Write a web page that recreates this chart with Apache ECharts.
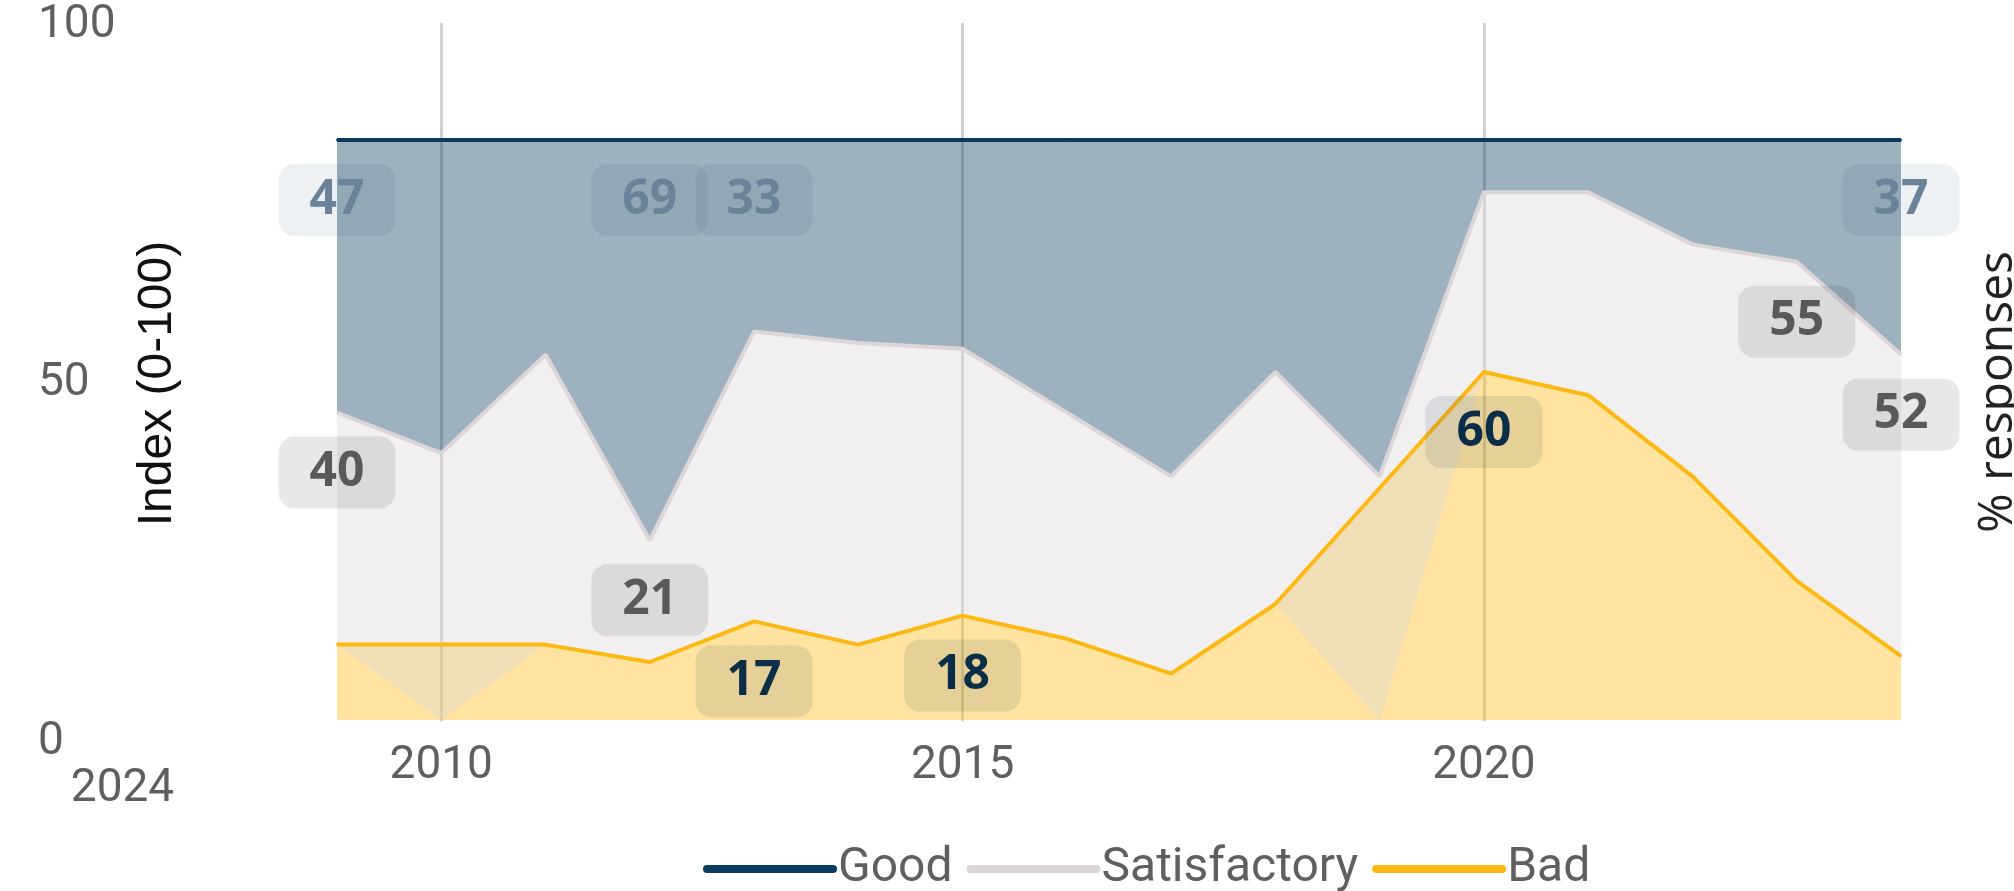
<!DOCTYPE html>
<html>
<head>
<meta charset="utf-8">
<title>Good / Satisfactory / Bad</title>
<script src="https://cdn.jsdelivr.net/npm/echarts@6/dist/echarts.min.js"></script>
<style>
  html, body { margin: 0; padding: 0; background: #ffffff; }
  #chart { width: 2014px; height: 891px; }
</style>
</head>
<body>
<div id="chart"></div>
<script>
// ---------- data ----------
const years = ['2009', '2010', '2011', '2012', '2013', '2014', '2015', '2016',
               '2017', '2018', '2019', '2020', '2021', '2022', '2023', '2024'];

// % of responses, stacked Bad -> Satisfactory -> Good (null = no value that year)
const goodValues         = [47, 54, 37, 69, 33, 35, 36, 47, 58, 40, 58,  9,  9, 18, 21, 37];
const satisfactoryValues = [40, 46, 50, 21, 50, 52, 46, 39, 34, 40, 42, 31, 35, 40, 55, 52];
const badValues          = [13, null, 13, 10, 17, 13, 18, 14, 8, 20, null, 60, 56, 42, 24, 11];

// which points carry a value label
const goodLabelIdx = [0, 3, 4, 15];
const satisfactoryLabelIdx = [0, 3, 14, 15];
const badLabelIdx = [4, 6, 11];

// the small index panel on the left
const indexYears = ['2024'];

const colors = {
    good: '#0b3c5d',
    satisfactory: '#dcd6d8',
    bad: '#fdb913'
};

// turn a plain value list into series data, switching labels on for some points
function withLabels(values, idxList) {
    return values.map((v, i) => idxList.indexOf(i) >= 0 ? { value: v, label: { show: true } } : v);
}

// rounded label box under the point
function boxLabel(textColor, boxColor) {
    return {
        show: false,
        position: 'bottom',
        distance: 23,
        fontFamily: 'Open Sans',
        fontWeight: 'bold',
        fontSize: 48,
        lineHeight: 48,
        color: textColor,
        backgroundColor: boxColor,
        borderRadius: 16,
        padding: [12, 31]
    };
}

function lineSeries(name, values, color, labelIdx, label) {
    return {
        name: name,
        type: 'line',
        stack: 'share',
        xAxisIndex: 0,
        yAxisIndex: 0,
        data: withLabels(values, labelIdx),
        connectNulls: true,
        symbol: 'circle',
        symbolSize: 2,
        showSymbol: true,
        lineStyle: { color: color, width: 4 },
        itemStyle: { color: color },
        areaStyle: { color: color, opacity: 0.4 },
        label: label,
        emphasis: { disabled: true }
    };
}

const showEveryFifth = (idx, value) => Number(value) % 5 === 0;

function initChart() {
    const chart = echarts.init(document.getElementById('chart'));

    const option = {
        backgroundColor: '#ffffff',
        animation: false,
        legend: {
            data: ['Good', 'Satisfactory', 'Bad'],
            left: 698,
            top: 840,
            itemWidth: 126,
            itemHeight: 14,
            itemGap: 14,
            textStyle: { fontFamily: 'Roboto', fontSize: 48, color: '#5f5f5f' },
            lineStyle: { width: 8, cap: 'round' },
            itemStyle: { opacity: 0 }
        },
        grid: [
            { left: 337, right: 113, top: 24, bottom: 171, outerBoundsMode: 'none' },
            { left: 30, top: 25, width: 185, bottom: 149, outerBoundsMode: 'none' }
        ],
        xAxis: [
            {
                type: 'category',
                gridIndex: 0,
                data: years,
                boundaryGap: false,
                axisLine: { show: false },
                axisTick: { show: false },
                axisLabel: {
                    interval: showEveryFifth,
                    margin: 23,
                    fontFamily: 'Roboto',
                    fontSize: 46,
                    color: '#5f5f5f'
                },
                splitLine: {
                    show: true,
                    interval: showEveryFifth,
                    lineStyle: { color: '#d0d0d0', width: 3, cap: 'round' }
                }
            },
            {
                type: 'category',
                gridIndex: 1,
                data: indexYears,
                axisLine: { show: false },
                axisTick: { show: false },
                splitLine: { show: false },
                axisLabel: { margin: 24, fontFamily: 'Roboto', fontSize: 46, color: '#5f5f5f' }
            }
        ],
        yAxis: [
            {
                type: 'value',
                gridIndex: 0,
                position: 'right',
                min: 0,
                max: 120,
                axisLabel: { show: false },
                axisLine: { show: false },
                axisTick: { show: false },
                splitLine: { show: false },
                name: '% responses',
                nameLocation: 'middle',
                nameGap: 73,
                nameMoveOverlap: false,
                nameTextStyle: {
                    fontFamily: 'Open Sans',
                    fontSize: 48,
                    color: '#222222',
                    padding: [0, 40, 0, 0]
                }
            },
            {
                type: 'value',
                gridIndex: 1,
                position: 'left',
                min: 0,
                max: 100,
                interval: 50,
                axisLabel: {
                    inside: true,
                    margin: 8,
                    fontFamily: 'Roboto',
                    fontSize: 46,
                    color: '#5f5f5f'
                },
                axisLine: { show: false },
                axisTick: { show: false },
                splitLine: { show: false },
                name: 'Index (0-100)',
                nameLocation: 'middle',
                nameGap: -152,
                nameMoveOverlap: false,
                nameTextStyle: { fontFamily: 'Liberation Sans', fontSize: 48, color: '#111111' }
            }
        ],
        series: [
            lineSeries('Bad', badValues, colors.bad, badLabelIdx,
                boxLabel('#0b2d48', 'rgba(12,45,74,0.1)')),
            lineSeries('Satisfactory', satisfactoryValues, colors.satisfactory, satisfactoryLabelIdx,
                boxLabel('#595959', 'rgba(0,0,0,0.09)')),
            lineSeries('Good', goodValues, colors.good, goodLabelIdx,
                boxLabel('#6b8399', 'rgba(12,60,96,0.07)'))
        ]
    };

    chart.setOption(option);
}

initChart();
</script>
</body>
</html>
